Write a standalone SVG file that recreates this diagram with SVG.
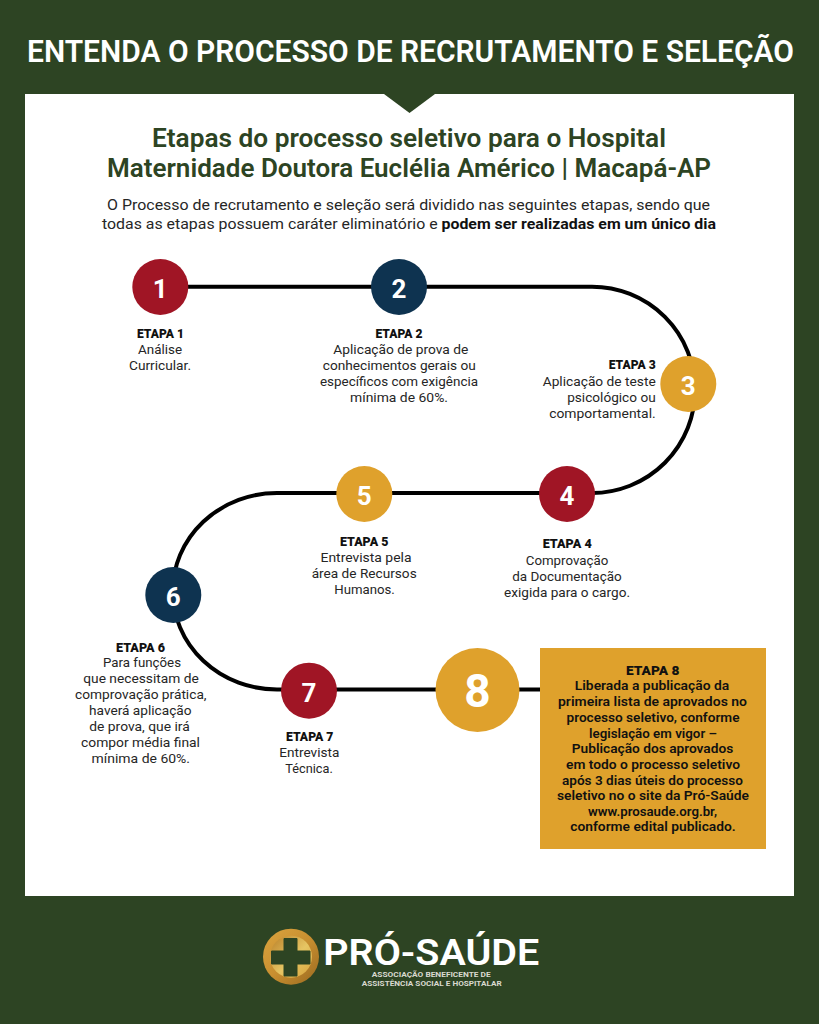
<svg xmlns="http://www.w3.org/2000/svg" width="819" height="1024" viewBox="0 0 819 1024">
<defs>
<linearGradient id="gold" x1="0" y1="0" x2="1" y2="1"><stop offset="0" stop-color="#dba43f"/><stop offset="0.5" stop-color="#c88f30"/><stop offset="1" stop-color="#9a6a20"/></linearGradient>
<linearGradient id="goldIn" x1="0" y1="0" x2="1" y2="1"><stop offset="0" stop-color="#b97f28"/><stop offset="0.55" stop-color="#e6c563"/><stop offset="1" stop-color="#d8a53d"/></linearGradient>
</defs>
<style>
text{font-family:Roboto,"Noto Sans","Liberation Sans",sans-serif;text-anchor:middle}
.b{font-size:13.5px;fill:#262626}
.h{font-size:13px;font-weight:900;fill:#111}
.n{font-size:26px;font-weight:700;fill:#fff}
.g{font-size:13px;font-weight:600;fill:#111}
.t{font-size:26px;font-weight:600;fill:#2d4423}
.e{text-anchor:end}
.red{fill:#a01525}.navy{fill:#0e3350}.gold{fill:#dfa12c}
</style>
<rect width="819" height="1024" fill="#2d4423"/>
<text x="410.5" y="61.5" style="font-size:30.8px;font-weight:600;fill:#fff" textLength="767" lengthAdjust="spacingAndGlyphs">ENTENDA O PROCESSO DE RECRUTAMENTO E SELEÇÃO</text>
<rect x="25" y="94" width="769" height="802" fill="#fff"/>
<polygon points="384,94 435,94 409.5,113" fill="#2d4423"/>
<text class="t" x="409" y="146.5" textLength="514" lengthAdjust="spacingAndGlyphs">Etapas do processo seletivo para o Hospital</text>
<text class="t" x="409" y="177" textLength="604" lengthAdjust="spacingAndGlyphs">Maternidade Doutora Euclélia Américo | Macapá-AP</text>
<text x="408.5" y="210" style="font-size:15px;fill:#262626" textLength="603" lengthAdjust="spacingAndGlyphs">O Processo de recrutamento e seleção será dividido nas seguintes etapas, sendo que</text>
<text x="409" y="229" style="font-size:15px;fill:#262626" textLength="614" lengthAdjust="spacingAndGlyphs">todas as etapas possuem caráter eliminatório e <tspan font-weight="700" fill="#111">podem ser realizadas em um único dia</tspan></text>
<g id="connectors" fill="none" stroke="#000" stroke-width="4">
<path d="M160 286.7H592A103 103 0 0 1 592 493H277A104 98 0 0 0 277 689.5H540"/>
</g>
<g id="node1"><circle class="red" cx="160.3" cy="287" r="28"/><text class="n" x="160.3" y="298">1</text>
<text class="h" x="160.5" y="337.5" textLength="47" lengthAdjust="spacingAndGlyphs">ETAPA 1</text><text class="b" x="160" y="354" textLength="44" lengthAdjust="spacingAndGlyphs">Análise</text><text class="b" x="160" y="370" textLength="62" lengthAdjust="spacingAndGlyphs">Curricular.</text></g>
<g id="node2"><circle class="navy" cx="399" cy="287" r="28"/><text class="n" x="399" y="298">2</text>
<text class="h" x="399" y="337.5" textLength="47" lengthAdjust="spacingAndGlyphs">ETAPA 2</text><text class="b" x="400.8" y="354" textLength="135" lengthAdjust="spacingAndGlyphs">Aplicação de prova de</text><text class="b" x="399.3" y="370" textLength="153" lengthAdjust="spacingAndGlyphs">conhecimentos gerais ou</text><text class="b" x="399" y="386" textLength="158" lengthAdjust="spacingAndGlyphs">específicos com exigência</text><text class="b" x="399" y="402" textLength="98" lengthAdjust="spacingAndGlyphs">mínima de 60%.</text></g>
<g id="node3"><circle class="gold" cx="688.3" cy="384" r="28"/><text class="n" x="688.3" y="395">3</text>
<text class="h e" x="655.7" y="369" textLength="47" lengthAdjust="spacingAndGlyphs">ETAPA 3</text><text class="b e" x="655.7" y="385.5" textLength="113" lengthAdjust="spacingAndGlyphs">Aplicação de teste</text><text class="b e" x="655.7" y="401.5" textLength="88.5" lengthAdjust="spacingAndGlyphs">psicológico ou</text><text class="b e" x="655.7" y="417.5" textLength="106.5" lengthAdjust="spacingAndGlyphs">comportamental.</text></g>
<g id="node4"><circle class="red" cx="567" cy="494" r="28"/><text class="n" x="567" y="505">4</text>
<text class="h" x="567.2" y="548" textLength="49" lengthAdjust="spacingAndGlyphs">ETAPA 4</text><text class="b" x="567" y="564.5" textLength="82.5" lengthAdjust="spacingAndGlyphs">Comprovação</text><text class="b" x="567" y="580.5" textLength="109.5" lengthAdjust="spacingAndGlyphs">da Documentação</text><text class="b" x="567" y="596.5" textLength="126" lengthAdjust="spacingAndGlyphs">exigida para o cargo.</text></g>
<g id="node5"><circle class="gold" cx="364.3" cy="494" r="28"/><text class="n" x="364.3" y="505">5</text>
<text class="h" x="364.2" y="546" textLength="48.5" lengthAdjust="spacingAndGlyphs">ETAPA 5</text><text class="b" x="366" y="562.3" textLength="91" lengthAdjust="spacingAndGlyphs">Entrevista pela</text><text class="b" x="364.2" y="578.3" textLength="105" lengthAdjust="spacingAndGlyphs">área de Recursos</text><text class="b" x="364.5" y="594.3" textLength="60.5" lengthAdjust="spacingAndGlyphs">Humanos.</text></g>
<g id="node6"><circle class="navy" cx="173.3" cy="595" r="28"/><text class="n" x="173.3" y="606">6</text>
<text class="h" x="140.5" y="651.7" textLength="49" lengthAdjust="spacingAndGlyphs">ETAPA 6</text><text class="b" x="142" y="667.3" textLength="78" lengthAdjust="spacingAndGlyphs">Para funções</text><text class="b" x="141" y="683.3" textLength="115.5" lengthAdjust="spacingAndGlyphs">que necessitam de</text><text class="b" x="140.8" y="699.3" textLength="131.5" lengthAdjust="spacingAndGlyphs">comprovação prática,</text><text class="b" x="140.3" y="715.3" textLength="102.5" lengthAdjust="spacingAndGlyphs">haverá aplicação</text><text class="b" x="139.5" y="731.3" textLength="100.5" lengthAdjust="spacingAndGlyphs">de prova, que irá</text><text class="b" x="140.5" y="747.3" textLength="119" lengthAdjust="spacingAndGlyphs">compor média final</text><text class="b" x="140.8" y="763.3" textLength="98.5" lengthAdjust="spacingAndGlyphs">mínima de 60%.</text></g>
<g id="node7"><circle class="red" cx="309" cy="690.7" r="28"/><text class="n" x="309" y="701.5">7</text>
<text class="h" x="309.7" y="740.5" textLength="47.5" lengthAdjust="spacingAndGlyphs">ETAPA 7</text><text class="b" x="309.3" y="757" textLength="60" lengthAdjust="spacingAndGlyphs">Entrevista</text><text class="b" x="309" y="773" textLength="47.5" lengthAdjust="spacingAndGlyphs">Técnica.</text></g>
<g id="node8"><circle class="gold" cx="477.5" cy="690" r="42"/><text x="477.5" y="707" style="font-size:46px;font-weight:700;fill:#fff">8</text>
<rect class="gold" x="540" y="648" width="226" height="201"/>
<text class="h" x="652.7" y="674.5" textLength="53.5" lengthAdjust="spacingAndGlyphs">ETAPA 8</text>
<text class="g" x="652" y="690" textLength="154.5" lengthAdjust="spacingAndGlyphs">Liberada a publicação da</text>
<text class="g" x="652.5" y="706" textLength="189" lengthAdjust="spacingAndGlyphs">primeira lista de aprovados no</text>
<text class="g" x="653" y="721.5" textLength="173" lengthAdjust="spacingAndGlyphs">processo seletivo, conforme</text>
<text class="g" x="653" y="737.5" textLength="128" lengthAdjust="spacingAndGlyphs">legislação em vigor –</text>
<text class="g" x="652.5" y="753" textLength="161.5" lengthAdjust="spacingAndGlyphs">Publicação dos aprovados</text>
<text class="g" x="653" y="768.5" textLength="174" lengthAdjust="spacingAndGlyphs">em todo o processo seletivo</text>
<text class="g" x="652.5" y="784.5" textLength="181" lengthAdjust="spacingAndGlyphs">após 3 dias úteis do processo</text>
<text class="g" x="653" y="800" textLength="192" lengthAdjust="spacingAndGlyphs">seletivo no o site da Pró-Saúde</text>
<text class="g" x="652.5" y="815.5" textLength="129" lengthAdjust="spacingAndGlyphs">www.prosaude.org.br,</text>
<text class="g" x="653" y="831" textLength="165.5" lengthAdjust="spacingAndGlyphs">conforme edital publicado.</text></g>
<g id="logo">
<circle cx="291" cy="956.7" r="28" fill="url(#gold)"/>
<circle cx="291" cy="956.7" r="21" fill="url(#goldIn)"/>
<path d="M284 938.5H297V951H310V964H297V976H284V964H271.5V951H284Z" fill="#2d4423" stroke="#2d4423" stroke-linejoin="round"/>
<text x="431.3" y="965" style="font-size:36px;font-weight:600;fill:#fff" textLength="216" lengthAdjust="spacingAndGlyphs">PRÓ-SAÚDE</text>
<text x="431.2" y="977" style="font-size:7.2px;font-weight:700;fill:#d9d9cf" textLength="119" lengthAdjust="spacingAndGlyphs">ASSOCIAÇÃO BENEFICENTE DE</text>
<text x="431.7" y="986" style="font-size:7.2px;font-weight:700;fill:#d9d9cf" textLength="140" lengthAdjust="spacingAndGlyphs">ASSISTÊNCIA SOCIAL E HOSPITALAR</text>
</g>
</svg>
